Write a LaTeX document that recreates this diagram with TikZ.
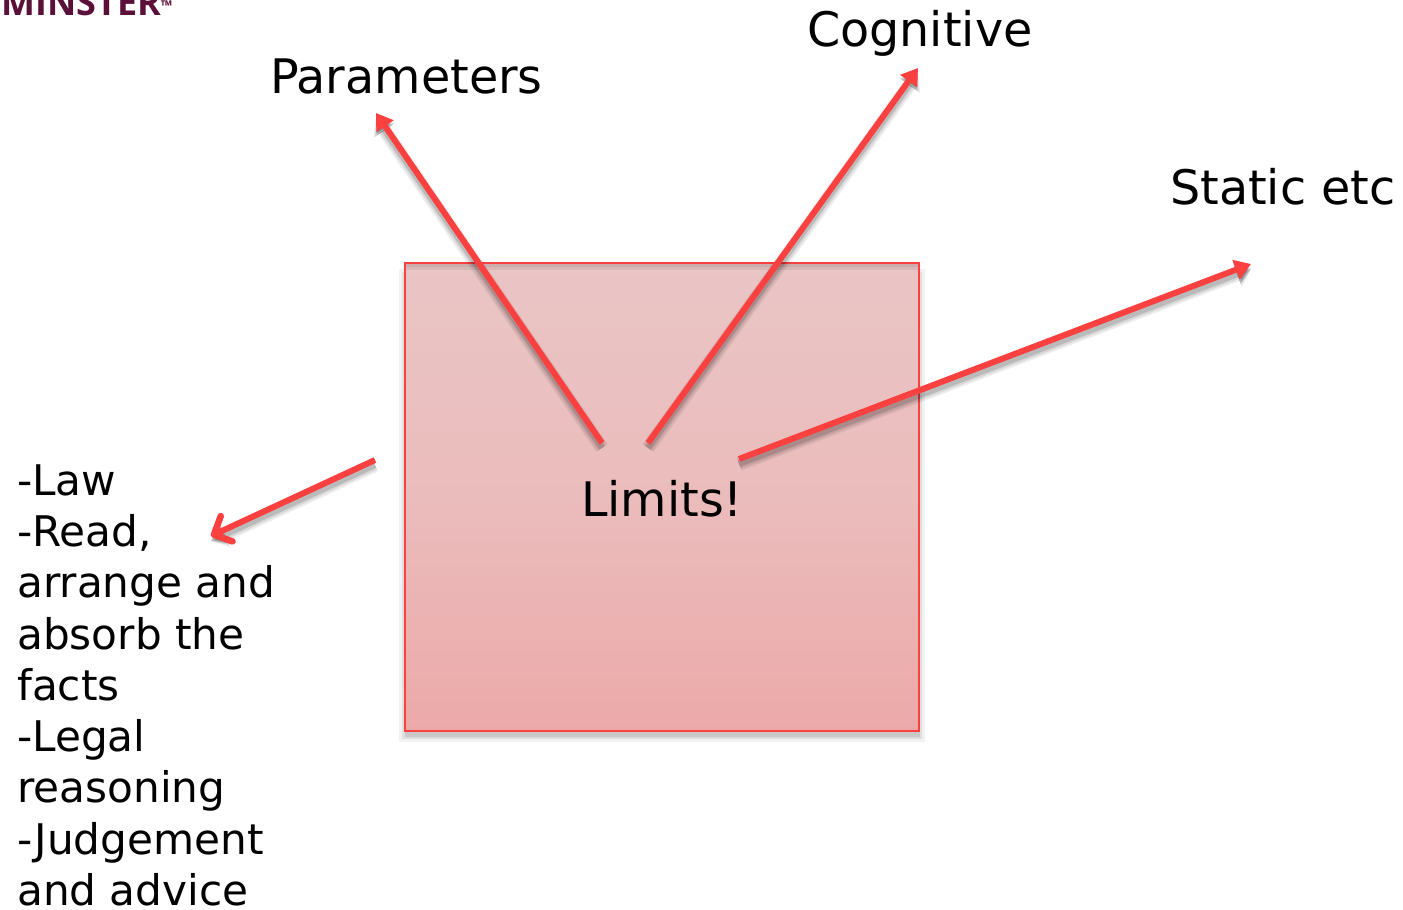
\documentclass[tikz,border=0pt]{standalone}
\usepackage{fontspec}
\setmainfont{DejaVu Sans}
\newfontfamily\logofont{Open Sans}
\usetikzlibrary{arrows.meta}
\definecolor{arrowred}{HTML}{FB4040}
\definecolor{logomaroon}{HTML}{5A1038}
\definecolor{boxtop}{HTML}{EAC5C5}
\definecolor{boxmid}{HTML}{EBBCBC}
\definecolor{boxbottom}{HTML}{ECA9A9}
\tikzset{
  big/.style={font=\fontsize{47.6}{56}\selectfont,text=black,inner sep=0pt,anchor=base west},
  listing/.style={font=\fontsize{42.2}{51.3}\selectfont,text=black,inner sep=0pt,align=left,anchor=base west},
  redarrow/.style={draw=arrowred,line width=6pt,-{Triangle[length=16pt,width=20pt]}},
  openarrow/.style={draw=arrowred,line width=6pt,-{Straight Barb[length=14pt,width=28pt,round,line width=6.5pt]}},
  shadeA/.style={draw=black,opacity=.07,line width=14pt,-{Triangle[length=15pt,width=26pt]}},
  shadeB/.style={draw=black,opacity=.09,line width=10pt,-{Triangle[length=15pt,width=22pt]}},
  shadeC/.style={draw=black,opacity=.14,line width=6pt,-{Triangle[length=15pt,width=18pt]}},
  limitbox/.style={draw=arrowred,line width=2.5pt,minimum width=514pt,minimum height=468pt,inner sep=0pt,
    top color=boxtop,bottom color=boxbottom,middle color=boxmid},
}
\begin{document}
\begin{tikzpicture}[x=1pt,y=-1pt]
\useasboundingbox (0,0) rectangle (1403,910);
\clip (0,0) rectangle (1403,910);
% box shadow
\fill[black,opacity=.05] (399,269) rectangle (925,742);
\fill[black,opacity=.08] (402,272) rectangle (922,739);
\fill[black,opacity=.10] (405,275) rectangle (920,737);
\node[limitbox] (box) at (662,497) {};
\fill[black,opacity=.07] (406,264) rectangle (918,270);
\fill[black,opacity=.06] (406,264) rectangle (918,267);
\node[big,anchor=base] (limits) at (662,516) {Limits!};
% logo
\node[inner sep=0pt,anchor=base west,text=logomaroon,font=\logofont\bfseries\fontsize{36}{36}\selectfont] (logo) at (1,15) {MINSTER\raisebox{3pt}{\fontsize{15}{15}\selectfont ™}};
% labels
\node[big] (parameters) at (270,93) {Parameters};
\node[big] (cognitive) at (807,46) {Cognitive};
\node[big] (static) at (1170,204) {Static etc};
\node[listing] (list) at (17,905.5) {-Law\\-Read,\\arrange and\\absorb the\\facts\\-Legal\\reasoning\\-Judgement\\and advice};
% connector ends
\coordinate (pStart) at (602,443);
\coordinate (pEnd) at (376,113);
\coordinate (cStart) at (648,443);
\coordinate (cEnd) at (918,68);
\coordinate (sStart) at (739,459);
\coordinate (sEnd) at (1251,264);
\coordinate (lStart) at (375,460);
\coordinate (lEnd) at (211,536);
% connector shadows
\foreach \a/\b in {pStart/pEnd,cStart/cEnd,sStart/sEnd,lStart/lEnd}{
  \draw[shadeA] ([yshift=-5pt]\a) -- ([yshift=-5pt]\b);
  \draw[shadeB] ([yshift=-5pt]\a) -- ([yshift=-5pt]\b);
  \draw[shadeC] ([yshift=-5pt]\a) -- ([yshift=-5pt]\b);
}
% connectors
\draw[redarrow] (pStart) -- (pEnd);
\draw[redarrow] (cStart) -- (cEnd);
\draw[redarrow] (sStart) -- (sEnd);
\draw[openarrow] (lStart) -- (lEnd);
\end{tikzpicture}
\end{document}
